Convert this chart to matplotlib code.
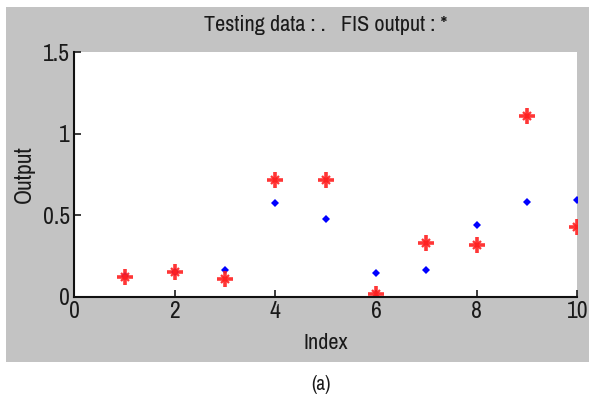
import matplotlib
matplotlib.use('Agg')
import matplotlib.pyplot as plt
from matplotlib.patches import Rectangle
from matplotlib import font_manager

# data
index = [1, 2, 3, 4, 5, 6, 7, 8, 9, 10]
testing_data = [0.127, 0.150, 0.163, 0.571, 0.478, 0.143, 0.161, 0.437, 0.582, 0.592]
fis_output = [0.118, 0.153, 0.108, 0.718, 0.718, 0.016, 0.327, 0.316, 1.110, 0.429]

x_ticks = [0, 2, 4, 6, 8, 10]
y_ticks = [0, 0.5, 1, 1.5]
y_tick_labels = ['0', '0.5', '1', '1.5']

# use a condensed face if the system has one
names = sorted({f.name for f in font_manager.fontManager.ttflist})
narrow = [n for n in names if 'Narrow' in n or 'Condensed' in n]
plt.rcParams['font.family'] = narrow[:1] + ['Liberation Sans', 'DejaVu Sans']
plt.rcParams['font.stretch'] = 'condensed'

txt = '#1a1a1a'

fig = plt.figure(figsize=(5.89, 3.98), dpi=100)
fig.patch.set_facecolor('white')

# grey matlab-style figure panel
fig.patches.append(Rectangle((0.011, 0.09), 0.989, 0.892, transform=fig.transFigure,
                             facecolor='#c3c3c3', edgecolor='none', zorder=-1))

ax = fig.add_axes([0.126, 0.255, 0.854, 0.614])
ax.set_facecolor('white')

ax.plot(index, testing_data, linestyle='none', marker='D', markersize=4.5,
        color='#0000ff', markeredgewidth=0)
ax.plot(index, fis_output, linestyle='none', marker='+', markersize=11,
        color='#ff2020', markeredgewidth=2.6, alpha=0.9)
ax.plot(index, fis_output, linestyle='none', marker='x', markersize=6,
        color='#ff2020', markeredgewidth=1.6, alpha=0.9)

ax.set_xlim(0, 10)
ax.set_ylim(0, 1.5)
ax.set_xticks(x_ticks)
ax.set_yticks(y_ticks)
ax.set_yticklabels(y_tick_labels)
ax.tick_params(direction='in', length=5, width=1.2, labelsize=17, colors=txt, pad=3)

for side in ['top', 'right']:
    ax.spines[side].set_visible(False)
for side in ['left', 'bottom']:
    ax.spines[side].set_linewidth(1.5)
    ax.spines[side].set_color('#111111')

ax.set_title('Testing data : .   FIS output : *', fontsize=16, color=txt, pad=15)
ax.set_xlabel('Index', fontsize=16, color=txt, labelpad=8)
ax.set_ylabel('Output', fontsize=17, color=txt, labelpad=6)

fig.text(0.545, 0.035, '(a)', ha='center', va='center', fontsize=14, color=txt)

fig.savefig('out.png', dpi=100)
